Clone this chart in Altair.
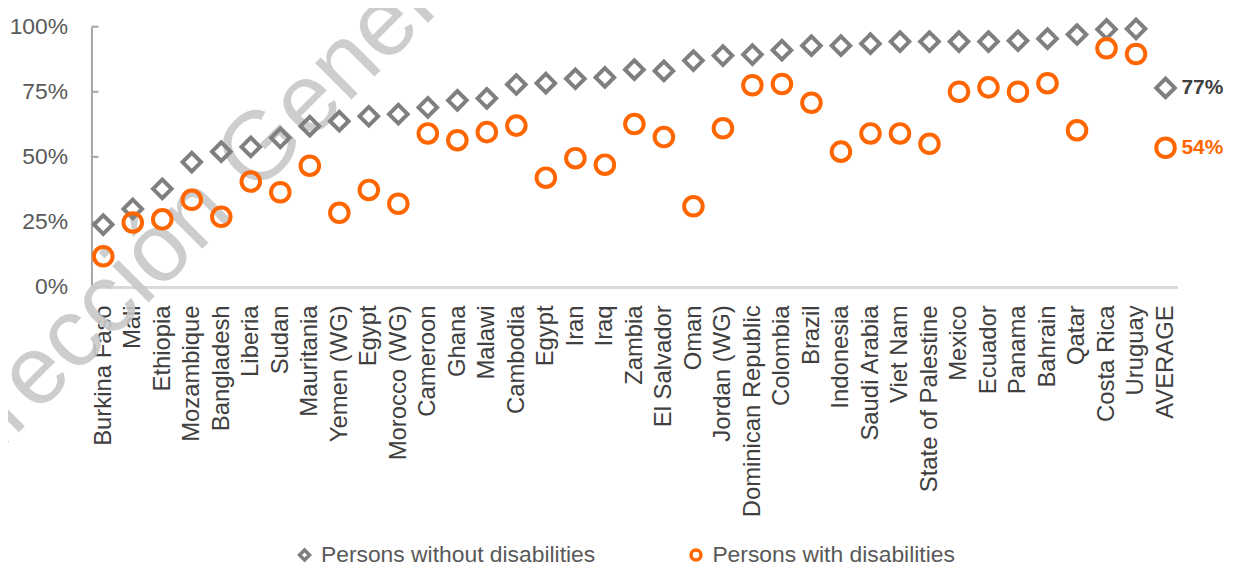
import json
import altair as alt
import pandas as pd

countries = [
    "Burkina Faso", "Mali", "Ethiopia", "Mozambique", "Bangladesh", "Liberia",
    "Sudan", "Mauritania", "Yemen (WG)", "Egypt", "Morocco (WG)", "Cameroon",
    "Ghana", "Malawi", "Cambodia", "Egypt", "Iran", "Iraq", "Zambia",
    "El Salvador", "Oman", "Jordan (WG)", "Dominican Republic", "Colombia",
    "Brazil", "Indonesia", "Saudi Arabia", "Viet Nam", "State of Palestine",
    "Mexico", "Ecuador", "Panama", "Bahrain", "Qatar", "Costa Rica", "Uruguay",
    "AVERAGE",
]
without_disab = [
    24, 30, 37.7, 48, 52, 53.8, 57.3, 61.8, 63.7, 65.6, 66.4, 69, 71.7, 72.5,
    77.8, 78.3, 80, 80.5, 83.5, 83, 87, 88.9, 89.3, 91, 92.7, 92.7, 93.5, 94.3,
    94.3, 94.3, 94.3, 94.6, 95.4, 97, 99, 99.2, 76.5,
]
with_disab = [
    11.8, 24.8, 26, 33.5, 27, 40.5, 36.4, 46.6, 28.5, 37.3, 32, 59, 56.4, 59.5,
    62, 42, 49.5, 47, 62.6, 57.6, 31, 61, 77.5, 78, 70.8, 52, 59, 59, 55, 75,
    76.7, 75, 78.3, 60.2, 91.7, 89.5, 53.5,
]
series_names = ["Persons without disabilities", "Persons with disabilities"]
series_colors = ["#7f7f7f", "#ff6600"]
avg_labels = ["77%", "54%"]
y_ticks = [0, 0.25, 0.5, 0.75, 1.0]
watermark_text = "Dirección General"

rows = []
for i, c in enumerate(countries):
    rows.append({"idx": i, "country": c, "series": series_names[0], "value": without_disab[i] / 100})
    rows.append({"idx": i, "country": c, "series": series_names[1], "value": with_disab[i] / 100})
df = pd.DataFrame(rows)

avg_idx = len(countries) - 1
df_avg = pd.DataFrame({
    "idx": [avg_idx, avg_idx],
    "series": series_names,
    "value": [without_disab[-1] / 100, with_disab[-1] / 100],
    "label": avg_labels,
})

FONT = "Liberation Sans"
label_expr = json.dumps(countries) + "[datum.value]"

x_enc = alt.X(
    "idx:O",
    scale=alt.Scale(type="point", padding=0.4),
    axis=alt.Axis(
        title=None, labelExpr=label_expr, labelAngle=270, labelAlign="right",
        labelBaseline="middle", labelPadding=18, labelFontSize=24,
        labelFont=FONT, labelColor="#404040", labelLimit=400, ticks=False,
        domainColor="#d9d9d9", domainWidth=3, grid=False,
    ),
)
y_enc = alt.Y(
    "value:Q",
    scale=alt.Scale(domain=[0, 1], nice=False),
    axis=alt.Axis(
        title=None, values=y_ticks, format=".0%", labelFontSize=23,
        labelFont=FONT, labelColor="#595959", labelPadding=24, ticks=False,
        domainColor="#a6a6a6", domainWidth=2, grid=False,
    ),
)

legend = alt.Legend(
    title=None, orient="none", direction="horizontal", legendX=203, legendY=520,
    labelFontSize=23, labelFont=FONT, labelColor="#595959", labelLimit=500,
    symbolSize=100, symbolStrokeWidth=3.5, labelOffset=5, columnPadding=88,
    padding=0,
)

watermark = alt.Chart(pd.DataFrame({"t": [watermark_text]})).mark_text(
    angle=315, fontSize=98, font=FONT, color="#c8c8c8", align="left",
    baseline="middle", opacity=0.9,
).encode(x=alt.value(-164), y=alt.value(458), text="t:N")

yticks = alt.Chart(pd.DataFrame({"t": y_ticks[1:]})).mark_rule(
    color="#a6a6a6", strokeWidth=2
).encode(y=alt.Y("t:Q"), x=alt.value(0), x2=alt.value(7))

points = alt.Chart(df).mark_point(filled=False, strokeWidth=4, size=350, opacity=1).encode(
    x=x_enc,
    y=y_enc,
    color=alt.Color("series:N", scale=alt.Scale(domain=series_names, range=series_colors), legend=legend),
    shape=alt.Shape("series:N", scale=alt.Scale(domain=series_names, range=["diamond", "circle"]), legend=legend),
)

txt_without = alt.Chart(df_avg).transform_filter(
    alt.datum.series == series_names[0]
).mark_text(align="left", baseline="middle", dx=16, fontSize=21, fontWeight="bold", font=FONT, color="#404040").encode(
    x=alt.X("idx:O"), y=alt.Y("value:Q"), text="label:N"
)
txt_with = alt.Chart(df_avg).transform_filter(
    alt.datum.series == series_names[1]
).mark_text(align="left", baseline="middle", dx=16, fontSize=21, fontWeight="bold", font=FONT, color="#ff6600").encode(
    x=alt.X("idx:O"), y=alt.Y("value:Q"), text="label:N"
)

chart = alt.layer(watermark, yticks, points, txt_without, txt_with).properties(
    width=1093, height=262,
    autosize=alt.AutoSizeParams(type="none"),
    padding={"left": 84, "top": 17, "right": 52, "bottom": 280},
    background="white",
).configure_view(stroke=None)

chart.save("out.html", embed_options={"renderer": "svg", "actions": False})
